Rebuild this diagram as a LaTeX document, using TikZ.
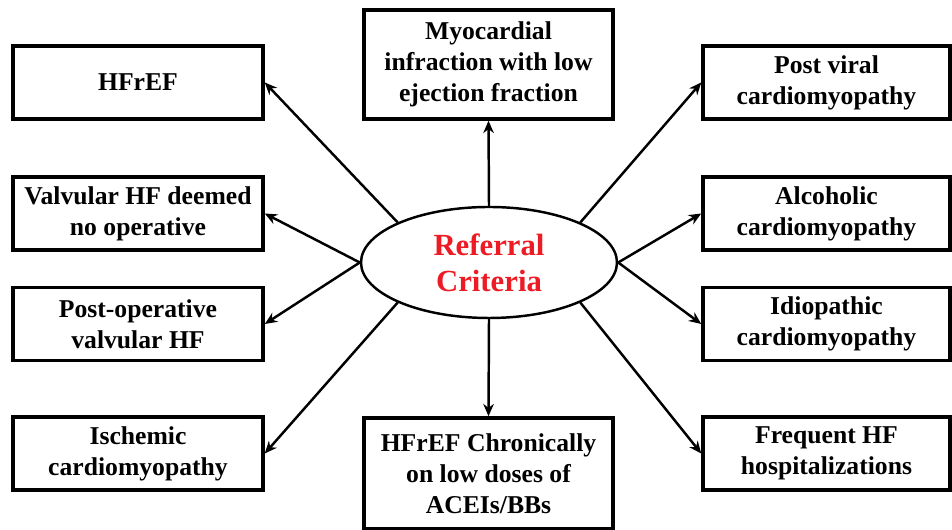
\documentclass[tikz,border=0pt]{standalone}
\usepackage{fontspec}
\setmainfont{Liberation Serif}
\usepackage{tikz}
\usetikzlibrary{arrows,arrows.meta,shapes,positioning}
\usepackage{xcolor}
\definecolor{critred}{RGB}{237,28,36}
\tikzstyle{arrow} = [line width=1.4pt,->,>={Stealth[length=7pt,width=6pt]},color=black]
\tikzstyle{critbox} = [rectangle, minimum width=5cm, minimum height=1.46cm, align=center, draw=black, fill=white, line width=2pt, font=\fontsize{14.6}{17.6}\selectfont\bfseries]
\tikzstyle{critellipse} = [ellipse, minimum width=5.12cm, minimum height=2.22cm, align=center, draw=black, line width=1.4pt, text=critred, font=\fontsize{17.5}{20.5}\selectfont\bfseries]

\begin{document}
\begin{tikzpicture}
\useasboundingbox (0,0) rectangle (19.04,10.6);

% Centre
\node[critellipse] (crit) at (9.78,5.35) {Referral\\Criteria};

% Left column
\node[critbox] (hfref) at (2.76,8.95) {HFrEF};
\node[critbox] (valv) at (2.76,6.33) {Valvular HF deemed\\no operative};
\node[critbox] (postop) at (2.76,4.12) {Post-operative\\valvular HF};
\node[critbox] (isch) at (2.76,1.53) {Ischemic\\cardiomyopathy};

% Top and bottom
\node[critbox, minimum width=4.98cm, minimum height=2.18cm] (myo) at (9.77,9.31) {Myocardial\\infraction with low\\ejection fraction};
\node[critbox, minimum width=4.98cm, minimum height=2.22cm] (chron) at (9.77,1.13) {HFrEF Chronically\\on low doses of\\ACEIs/BBs};

% Right column
\node[critbox, minimum width=4.94cm] (viral) at (16.53,8.95) {Post viral\\cardiomyopathy};
\node[critbox, minimum width=4.94cm] (alc) at (16.53,6.33) {Alcoholic\\cardiomyopathy};
\node[critbox, minimum width=4.94cm] (idio) at (16.53,4.12) {Idiopathic\\cardiomyopathy};
\node[critbox, minimum width=4.94cm] (freq) at (16.53,1.53) {Frequent HF\\hospitalizations};

% Arrows
\draw[arrow] (crit.north west) -- (hfref.east);
\draw[arrow] (crit.west) -- (valv.east);
\draw[arrow] (crit.west) -- (postop.east);
\draw[arrow] (crit.south west) -- (isch.east);
\draw[arrow] (crit.north) -- (myo.south);
\draw[arrow] (crit.south) -- (chron.north);
\draw[arrow] (crit.north east) -- (viral.west);
\draw[arrow] (crit.east) -- (alc.west);
\draw[arrow] (crit.east) -- (idio.west);
\draw[arrow] (crit.south east) -- (freq.west);
\end{tikzpicture}
\end{document}
